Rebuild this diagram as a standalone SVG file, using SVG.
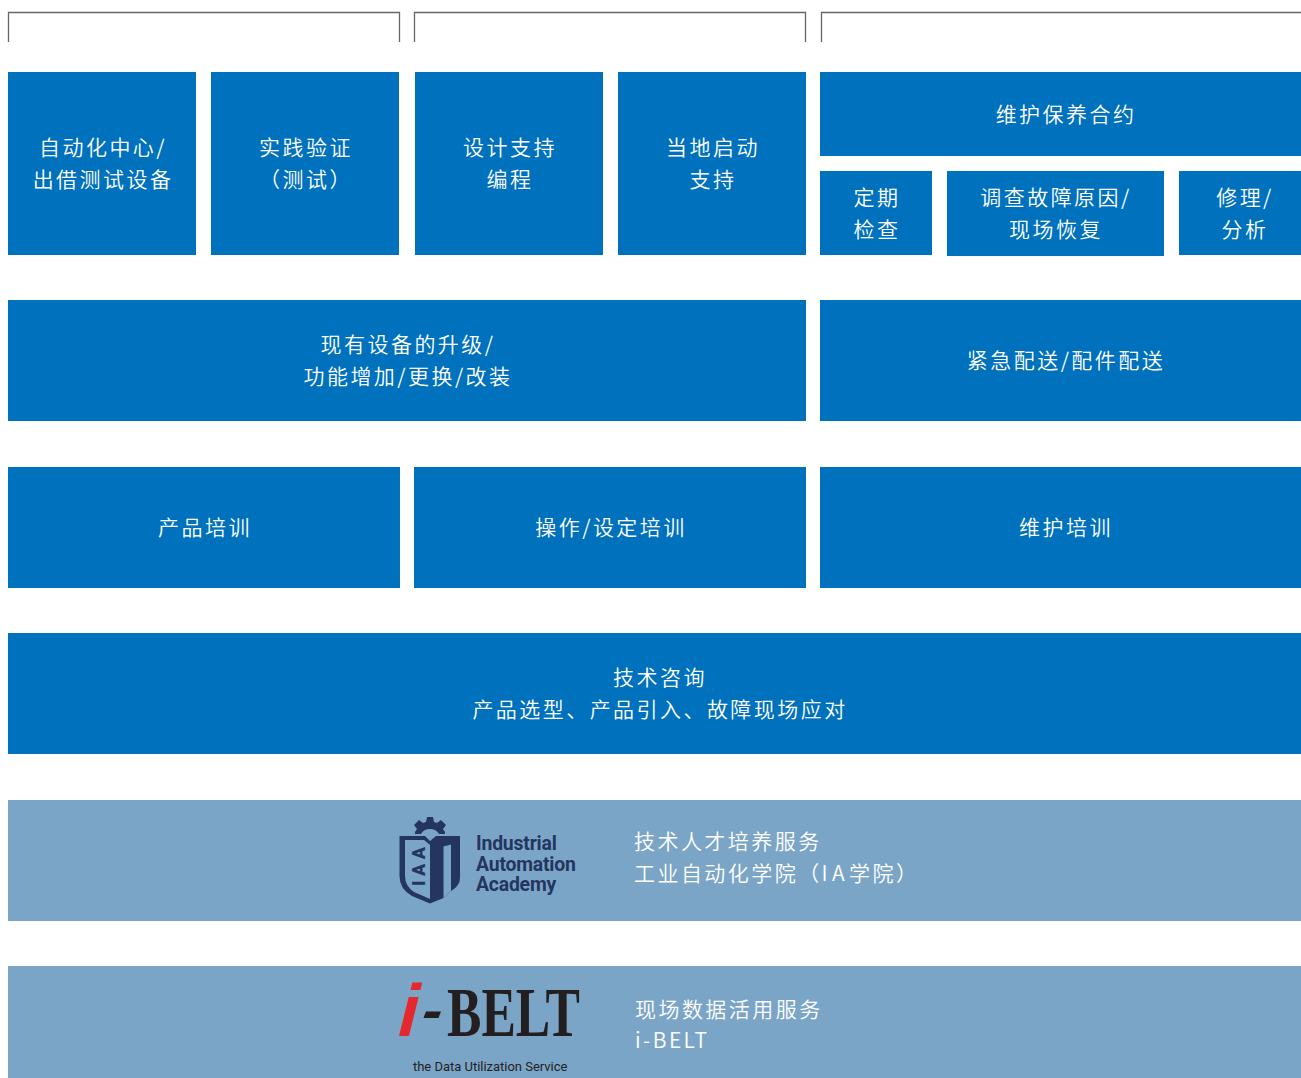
<svg xmlns="http://www.w3.org/2000/svg" width="1301" height="1078" viewBox="0 0 1301 1078">
<style>
.b{fill:#0071bc}
.l{fill:#7ba5c7}
.t{font-family:"Noto Sans CJK SC","Noto Sans",sans-serif;font-size:21px;letter-spacing:2.45px;fill:#fff;text-anchor:middle;font-weight:350}
.s{text-anchor:start}
.br{fill:none;stroke:#666;stroke-width:1.3}
.a{font-family:"Roboto","Liberation Sans",sans-serif;font-size:19.4px;font-weight:700;fill:#24355f;letter-spacing:-.2px}
</style>
<rect width="1301" height="1078" fill="#fff"/>
<g id="brackets">
<path class="br" d="M8.500 42V12.500H399.500V42"/>
<path class="br" d="M414.500 42V12.500H805.500V42"/>
<path class="br" d="M821.500 42V12.500H1301"/>
</g>
<g id="n1"><rect class="b" x="8" y="72" width="188" height="183"/><text class="t" x="103" y="155">自动化中心/</text><text class="t" x="103" y="187">出借测试设备</text></g>
<g id="n2"><rect class="b" x="211" y="72" width="188" height="183"/><text class="t" x="306" y="155">实践验证</text><text class="t" x="306" y="187">（测试）</text></g>
<g id="n3"><rect class="b" x="415" y="72" width="188" height="183"/><text class="t" x="510" y="155">设计支持</text><text class="t" x="510" y="187">编程</text></g>
<g id="n4"><rect class="b" x="618" y="72" width="188" height="183"/><text class="t" x="713" y="155">当地启动</text><text class="t" x="713" y="187">支持</text></g>
<g id="n5"><rect class="b" x="820" y="72" width="481" height="84"/><text class="t" x="1066" y="122">维护保养合约</text></g>
<g id="n6"><rect class="b" x="820" y="171" width="112" height="84"/><text class="t" x="877" y="205">定期</text><text class="t" x="877" y="237">检查</text></g>
<g id="n7"><rect class="b" x="947" y="171" width="217" height="85"/><text class="t" x="1056" y="205">调查故障原因/</text><text class="t" x="1056" y="237">现场恢复</text></g>
<g id="n8"><rect class="b" x="1179" y="171" width="122" height="84"/><text class="t" x="1245" y="205">修理/</text><text class="t" x="1245" y="237">分析</text></g>
<g id="n9"><rect class="b" x="8" y="300" width="798" height="121"/><text class="t" x="408" y="352">现有设备的升级/</text><text class="t" x="408" y="384">功能增加/更换/改装</text></g>
<g id="n10"><rect class="b" x="820" y="300" width="481" height="121"/><text class="t" x="1066" y="368">紧急配送/配件配送</text></g>
<g id="n11"><rect class="b" x="8" y="467" width="392" height="121"/><text class="t" x="205" y="535">产品培训</text></g>
<g id="n12"><rect class="b" x="414" y="467" width="392" height="121"/><text class="t" x="611" y="535">操作/设定培训</text></g>
<g id="n13"><rect class="b" x="820" y="467" width="481" height="121"/><text class="t" x="1066" y="535">维护培训</text></g>
<g id="n14"><rect class="b" x="8" y="633" width="1293" height="121"/><text class="t" x="660" y="685">技术咨询</text><text class="t" x="660" y="717">产品选型、产品引入、故障现场应对</text></g>
<g id="n15"><rect class="l" x="8" y="800" width="1293" height="121"/>
<g fill="#24355f">
<path d="M427 817h6l1 5 3 1 4-3 5 5-3 4 2 3 0 2h-6a10 9 0 0 0-18 0h-6l0-2 2-3-3-4 5-5 4 3 3-1z"/>
<path d="M399.500 836H425L430 841 436 836H460V878Q460 886 451 891L443.500 898 430 903.500 412 896Q399.500 889 399.500 876Z"/>
</g>
<path class="l" d="M405 840H424L430 845V899L414 892Q405 886 405 876Z"/>
<path class="l" d="M443.500 846.500 451 844.500V891L443.500 898Z"/>
<text transform="translate(425 886) rotate(-90)" font-family="Roboto,'Liberation Sans',sans-serif" font-size="18" font-weight="900" fill="#24355f" textLength="39">IAA</text>
<text class="a" x="476" y="850">Industrial</text><text class="a" x="476" y="870.500">Automation</text><text class="a" x="476" y="891">Academy</text>
<text class="t s" x="634" y="849">技术人才培养服务</text><text class="t s" x="634" y="881">工业自动化学院（<tspan letter-spacing="4.400">IA</tspan>学院）</text></g>
<g id="n16"><rect class="l" x="8" y="966" width="1293" height="112"/>
<text transform="translate(394 1036) skewX(-14)" font-family="'Liberation Sans',sans-serif" font-size="74" font-weight="700" fill="#e5282e" textLength="20" lengthAdjust="spacingAndGlyphs">i</text>
<path d="M426 1011.500H441L438.500 1018H423.500Z" fill="#231f20"/>
<text x="447" y="1036" font-family="'Liberation Serif',serif" font-size="70" font-weight="700" fill="#231f20" textLength="133" lengthAdjust="spacingAndGlyphs">BELT</text>
<text x="413" y="1071" font-family="Roboto,sans-serif" font-size="13" letter-spacing="-.02" fill="#222">the Data Utilization Service</text>
<text class="t s" x="635" y="1017">现场数据活用服务</text><text class="t s" x="635" y="1048">i-BELT</text></g>
</svg>
